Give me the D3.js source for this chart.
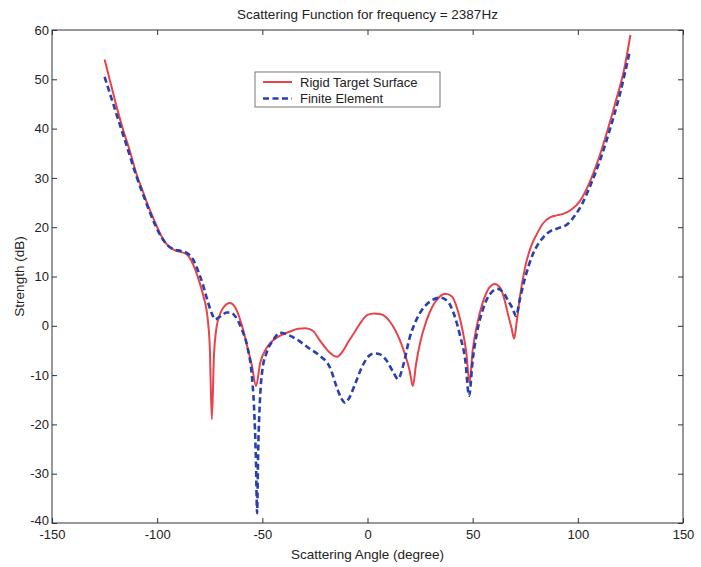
<!DOCTYPE html>
<html><head><meta charset="utf-8">
<script src="https://cdn.jsdelivr.net/npm/d3@7/dist/d3.min.js"></script>
<style>
html,body{margin:0;padding:0;background:#fff;}
text{font-family:"Liberation Sans",Arial,sans-serif;fill:#222;}
</style></head>
<body><svg id="chart" width="701" height="567"></svg>
<script>
const titleText = "Scattering Function for frequency = 2387Hz";
const xLabel = "Scattering Angle (degree)";
const yLabel = "Strength (dB)";
const seriesNames = ["Rigid Target Surface", "Finite Element"];
const xTicks = [-150, -100, -50, 0, 50, 100, 150];
const yTicks = [-40, -30, -20, -10, 0, 10, 20, 30, 40, 50, 60];

const rigidAngle = [-125,-122,-119,-116,-113,-110,-107,-104,-101,-98,-95,-92,-89,-86,-83,-80,-78,-76,-75,-74,-73,-72,-70,-68,-65.5,-63,-60,-57,-55,-53,-51,-48,-45,-41.5,-37,-33,-29.5,-26,-22.6,-18.5,-14.6,-12,-9,-6,-3,0,3,6,9,12,15,18,20,21.6,23,25,28,31,34,37,40,43,45,47,48.5,50,52,55,58,60.5,63,65,67,68.5,69.7,71,72.5,74.9,77.5,80.5,83.5,86.8,90,93,97,101,106,110,114,118,122,125];
const rigidDb = [54,49,44,39.5,35.5,31,27.5,24,21,18.2,16.3,15.4,15,14.5,12.5,9,6,1.5,-4,-19,-6,-1,2.5,4,4.6,3.8,0.5,-4.5,-8,-12.2,-7.5,-4.5,-3,-2,-1.2,-0.6,-0.5,-1,-3,-5.2,-6.3,-5.3,-3.2,-1.2,0.8,2.2,2.5,2.4,1.7,0,-2.5,-6,-9,-12.2,-8,-3.5,1,4,5.8,6.5,6,3,-0.5,-5.5,-11.5,-5,0,5,7.8,8.5,7.8,5.5,2,-0.5,-2.6,1,6,11.8,15.8,18.6,20.8,22,22.4,22.7,23.6,25.3,29.5,34,39.5,45.5,52,59];

const feAngle = [-125,-122,-119,-116,-113,-110,-107,-104,-101,-98,-95,-92,-89,-86,-83,-80,-78,-76,-74,-72.5,-71,-69,-67,-65.5,-63,-60,-57,-55,-54,-53,-52.5,-52,-51,-50,-48,-45,-41.5,-37,-33.5,-27.3,-22.6,-17.8,-14.6,-12.5,-10.7,-8.5,-5.9,-2,1,3.6,6,9,12,14.5,17,20,23,26,30,34.5,38,41,44,46.5,48.3,50,52,55,58,62,65,67,69,70.6,72.5,74.9,78.7,83.5,87,90,95.3,98.5,102,106,110.5,115,120,124.6];
const feDb = [50.5,46.5,42.5,38.5,34.5,30.5,27,23.6,20.5,18,16.3,15.5,15.2,14.8,13.5,10.5,8,5,2.5,1.3,1.6,2.2,2.7,2.7,2,-0.5,-4.5,-10,-16,-28,-38,-26,-14,-9,-5.5,-3,-1.4,-2,-2.8,-4.7,-6.1,-8.5,-12.5,-14.7,-15.6,-14.5,-11.8,-7.8,-6,-5.6,-5.8,-7,-9.2,-10.8,-8,-2.5,1,3.3,5,5.7,5,2.5,-2,-7,-14.2,-7,-1.5,3.5,6.3,7.5,6.5,5,3.5,2,5.5,9.7,14.6,17.9,19.2,19.7,20.7,22.3,24.7,28.5,33.5,39.5,47,55.5];

const svg = d3.select("#chart");
const L = 52, R = 683, T = 30, B = 523;
const x = d3.scaleLinear().domain([-150, 150]).range([L, R]);
const y = d3.scaleLinear().domain([-40, 60]).range([B, T]);

const axisColor = "#333";
const fs = "13px";
const fmt = d => String(d);

// frame
svg.append("rect").attr("x", L).attr("y", T).attr("width", R - L).attr("height", B - T)
  .attr("fill", "none").attr("stroke", axisColor).attr("stroke-width", 1);

function styleAxis(g) {
  g.select(".domain").remove();
  g.selectAll(".tick line").attr("stroke", axisColor);
  g.selectAll(".tick text").style("font-size", fs).attr("fill", "#222");
}
svg.append("g").attr("transform", `translate(0,${B})`)
  .call(d3.axisBottom(x).tickValues(xTicks).tickSize(-5).tickPadding(7).tickFormat(fmt))
  .call(styleAxis);
svg.append("g").attr("transform", `translate(0,${T})`)
  .call(d3.axisTop(x).tickValues(xTicks).tickSize(-5).tickFormat(""))
  .call(styleAxis);
const yAxisG = svg.append("g").attr("transform", `translate(${L},0)`)
  .call(d3.axisLeft(y).tickValues(yTicks).tickSize(-5).tickPadding(3).tickFormat(fmt))
  .call(styleAxis);
yAxisG.selectAll(".tick text").filter(d => d === -40).attr("dy", "0.1em");
svg.append("g").attr("transform", `translate(${R},0)`)
  .call(d3.axisRight(y).tickValues(yTicks).tickSize(-5).tickFormat(""))
  .call(styleAxis);

const line = d3.line().x(d => x(d[0])).y(d => y(d[1])).curve(d3.curveMonotoneX);
const rigid = rigidAngle.map((a, i) => [a, rigidDb[i]]);
const fe = feAngle.map((a, i) => [a, feDb[i]]);

const red = "#e8434b", blue = "#2a3fae";
svg.append("path").datum(rigid).attr("d", line).attr("fill", "none")
  .attr("stroke", red).attr("stroke-width", 2);
svg.append("path").datum(fe).attr("d", line).attr("fill", "none")
  .attr("stroke", blue).attr("stroke-width", 2.6).attr("stroke-dasharray", "6,3.5");

// title & labels
svg.append("text").attr("x", (L + R) / 2).attr("y", 19).attr("text-anchor", "middle")
  .style("font-size", "13.5px").text(titleText);
svg.append("text").attr("x", (L + R) / 2).attr("y", 559).attr("text-anchor", "middle")
  .style("font-size", "13.5px").text(xLabel);
svg.append("text").attr("transform", `translate(24,${(T + B) / 2}) rotate(-90)`)
  .attr("text-anchor", "middle").style("font-size", "13.5px").text(yLabel);

// legend
const lg = svg.append("g");
lg.append("rect").attr("x", 255).attr("y", 72).attr("width", 185).attr("height", 35)
  .attr("fill", "#fff").attr("stroke", "#555").attr("stroke-width", 0.8);
const colors = [red, blue];
seriesNames.forEach((n, i) => {
  const yy = 82 + i * 16.5;
  lg.append("line").attr("x1", 263).attr("x2", 292).attr("y1", yy).attr("y2", yy)
    .attr("stroke", colors[i]).attr("stroke-width", i ? 2.6 : 2)
    .attr("stroke-dasharray", i ? "6,3.5" : null);
  lg.append("text").attr("x", 300).attr("y", yy + 4.5).style("font-size", "13px").text(n);
});
</script></body></html>
